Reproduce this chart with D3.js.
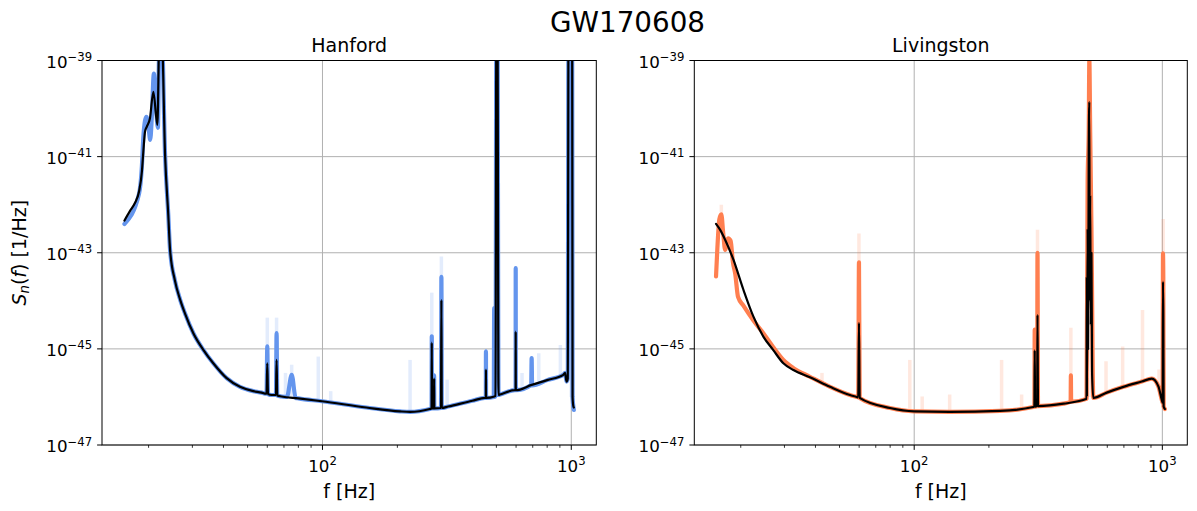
<!DOCTYPE html>
<html>
<head>
<meta charset="utf-8">
<script src="https://cdn.jsdelivr.net/npm/d3@7"></script>
<style>
  body { margin: 0; background: #fff; }
  text { font-family: "DejaVu Sans", sans-serif; fill: #000; }
</style>
</head>
<body>
<svg id="fig" width="1197" height="511"></svg>
<script>
// ---- data (frequencies in Hz, PSD as log10 of S_n in 1/Hz) ----
var figTitle = "GW170608";
var detectors = ["Hanford", "Livingston"];
var bandColors = ["#6495ed", "#ff7f50"];
var xTickVals = [100, 1000];
var yTickExps = [-39, -41, -43, -45, -47];
var fRange = [16, 1024];

// median PSD, Hanford
var hanfordF = [16.0, 16.8, 17.6, 18.3, 18.8, 19.05, 19.35, 19.66, 20.26, 20.9, 21.7, 22.1, 22.6, 23.3, 24.0, 24.4,
  25.5, 26.8, 28.0, 30.3, 33.2, 36.4, 41.2, 46.6, 52.7, 57.0, 58.7,
  59.6, 60.0, 60.4, 62.5, 65.0, 65.4, 65.8, 68.5, 80, 99.5, 150, 205, 225, 270, 274.5, 275, 275.5,
  280.5, 281, 281.5, 299.5, 300.6, 301.7, 320, 400, 450, 453.5, 454, 454.5, 491, 496, 500, 505, 510, 517, 594, 597.5,
  598, 598.5, 693, 800, 929, 944, 957, 968, 975, 1008, 1012, 1020, 1024];
var hanfordS = [-42.33, -42.14, -41.97, -41.73, -41.31, -40.90, -40.48, -40.38, -40.20, -39.65, -40.34, -38.5, -38.5, -40.97, -42.21, -42.94,
  -43.57, -43.98, -44.26, -44.68, -45.02, -45.30, -45.61, -45.79, -45.88, -45.91, -45.93,
  -45.93, -45.30, -45.94, -45.96, -45.96, -45.23, -45.97, -45.99, -46.03, -46.09, -46.22, -46.30, -46.31, -46.25, -46.24, -44.87, -46.24,
  -46.24, -45.62, -46.24, -46.23, -43.98, -46.23, -46.20, -46.08, -46.02, -46.02, -45.43, -46.02, -45.99, -45.98, -38, -38, -45.96, -45.95, -45.86, -45.86,
  -44.64, -45.86, -45.75, -45.65, -45.54, -45.50, -45.68, -45.62, -38, -38, -46.0, -46.2, -46.22];

// sample band, Hanford
var hanfordBandF = [16.0, 18.3, 18.8, 19.05, 19.35, 19.6, 20.0, 20.3, 20.6, 21.0, 21.4, 21.8, 22.1, 22.6, 23.3, 24.0, 24.4,
  25.5, 26.8, 28.0, 30.3, 33.2, 36.4, 41.2, 46.6, 52.7, 57.0, 58.7,
  59.6, 60.0, 60.4, 62.5, 65.0, 65.4, 65.8, 68.5, 72, 75.2, 78, 80, 99.5, 150, 205, 225,
  270, 274.5, 275, 275.5, 280.5, 281, 281.5, 299.5, 300.6, 301.7, 320, 400, 450, 453.5, 454, 454.5, 488, 490, 492, 496,
  500, 505, 510, 517, 594, 597.5, 598, 598.5, 690, 693, 696, 800, 929, 944, 957, 968, 975, 1008, 1012, 1024];
var hanfordBandS = [-42.4, -41.78, -41.2, -40.6, -40.25, -40.17, -40.4, -40.65, -40.2, -39.27, -39.9, -40.4, -38.5, -38.5, -40.97, -42.21, -42.94,
  -43.57, -43.98, -44.26, -44.68, -45.02, -45.30, -45.61, -45.79, -45.88, -45.91, -45.93,
  -45.93, -44.95, -45.94, -45.96, -45.96, -44.67, -45.97, -45.99, -46.0, -45.54, -46.02, -46.03, -46.09, -46.22, -46.30, -46.31,
  -46.25, -46.24, -44.74, -46.24, -46.24, -45.55, -46.24, -46.23, -43.5, -46.23, -46.20, -46.08, -46.02, -46.02, -45.05, -46.02, -46.0, -44.15, -46.0, -45.98,
  -38, -38, -45.96, -45.95, -45.86, -45.86, -43.32, -45.86, -45.75, -45.19, -45.76, -45.65, -45.54, -45.50, -45.68, -45.62, -38, -38, -46.0, -46.27];

// faint sample lines, Hanford: [f, from, to]
var hanfordFaint = [[60.0, -45.9, -44.35], [65.4, -45.95, -44.35], [71, -46.0, -45.5], [75.2, -46.0, -45.33], [96.2, -46.08, -45.16],
  [107.9, -46.12, -45.88], [225, -46.31, -45.23], [275, -46.24, -43.83], [300.6, -46.23, -43.08], [317, -46.2, -45.64],
  [634, -45.82, -45.5], [740, -45.7, -45.09], [904, -45.56, -44.92], [1000, -46.0, -41.55]];

// median PSD, Livingston
var livingstonF = [15.9, 16.5, 17.3, 18.7, 20.5, 22.5, 24.7, 27.0, 29.7, 32.6, 38.0, 45.8, 55.1, 58.7,
  59.5, 59.9, 60.3, 79.9, 100, 139, 222, 302, 305, 306, 307, 313, 314, 315.5, 400,
  495, 496, 497, 500, 502, 505, 508, 510, 512, 515, 518, 521, 527,
  597, 697, 826, 907, 964, 995, 1003, 1006, 1009, 1012, 1024];
var livingstonS = [-42.40, -42.52, -42.73, -43.15, -43.77, -44.33, -44.75, -45.02, -45.30, -45.44, -45.59, -45.79, -45.96, -46.00,
  -46.01, -44.46, -46.02, -46.23, -46.30, -46.31, -46.29, -46.21, -46.20, -45.03, -46.20, -46.19, -44.29, -46.19, -46.14,
  -46.04, -43.5, -46.0, -42.5, -45.0, -41.0, -39.86, -44.0, -41.8, -44.5, -43.0, -45.5, -46.02,
  -45.91, -45.79, -45.68, -45.62, -45.78, -46.06, -46.12, -43.6, -44.3, -46.2, -46.25];

// sample band, Livingston
var livingstonBandF = [15.9, 16.1, 16.4, 16.7, 17.0, 17.3, 17.8, 18.2, 18.6, 19.0, 19.5,
  20.5, 22.5, 24.7, 27.0, 29.7, 32.6, 38.0, 45.8, 55.1, 58.7, 59.5, 59.9, 60.3,
  79.9, 100, 139, 222, 302, 305, 306, 307, 313, 314, 315.5, 400, 427, 428, 429,
  495, 500, 505, 508, 512, 518, 527, 597, 697, 826, 907, 964, 995, 1003, 1006, 1009, 1012, 1024];
var livingstonBandS = [-43.49, -42.9, -42.3, -42.2, -42.6, -42.94, -42.7, -42.75, -43.2, -43.44, -43.92,
  -44.10, -44.41, -44.68, -44.96, -45.23, -45.40, -45.58, -45.79, -45.96, -46.00, -46.01, -43.2, -46.02,
  -46.23, -46.30, -46.31, -46.29, -46.21, -46.20, -44.6, -46.20, -46.19, -43.0, -46.19, -46.14, -46.1, -45.55, -46.1,
  -46.04, -41.5, -40.5, -39.0, -40.5, -42.5, -46.02, -45.91, -45.79, -45.68, -45.62, -45.78, -46.06, -46.12, -43.01, -43.5, -46.2, -46.25];

// faint sample lines, Livingston: [f, from, to]
var livingstonFaint = [[16.7, -42.3, -42.0], [42.5, -45.7, -45.5], [59.9, -46.0, -42.6], [96, -46.29, -45.23], [107.7, -46.3, -45.99],
  [139, -46.31, -45.95], [225, -46.29, -45.23], [271, -46.25, -45.95], [314, -46.19, -42.52], [428, -46.1, -44.56],
  [508, -46.0, -38.9], [593, -45.91, -45.26], [692, -45.8, -44.95], [832, -45.68, -44.19], [970, -45.8, -45.43],
  [1008, -46.1, -42.3]];

// ---- layout ----
var svg = d3.select("#fig");
svg.append("rect").attr("width", 1197).attr("height", 511).attr("fill", "#fff");

var plotTop = 60.5, plotBottom = 445;
var panels = [
  { name: detectors[0], left: 102, right: 596.3, color: bandColors[0],
    f: hanfordF, s: hanfordS, bf: hanfordBandF, bs: hanfordBandS, faint: hanfordFaint, ylabel: true },
  { name: detectors[1], left: 694.3, right: 1187.3, color: bandColors[1],
    f: livingstonF, s: livingstonS, bf: livingstonBandF, bs: livingstonBandS, faint: livingstonFaint, ylabel: false }
];

// matplotlib-like 5% margin in log space
var lo = Math.log10(fRange[0]), hi = Math.log10(fRange[1]), pad = (hi - lo) * 0.05;
var xDomain = [Math.pow(10, lo - pad), Math.pow(10, hi + pad)];

var minorTicks = [];
[10, 100, 1000].forEach(function (dec) {
  for (var k = 2; k <= 9; k++) {
    var v = dec * k;
    if (v > xDomain[0] && v < xDomain[1]) minorTicks.push(v);
  }
});

function supText(sel, exp) {
  sel.append("tspan").text("10");
  sel.append("tspan").attr("dy", -6.5).attr("font-size", 11.7)
    .text(exp < 0 ? "\u2212" + (-exp) : String(exp));
}

svg.append("text")
  .attr("x", 627.5).attr("y", 31.7)
  .attr("text-anchor", "middle")
  .attr("font-size", 27.8)
  .text(figTitle);

panels.forEach(function (p, i) {
  var x = d3.scaleLog().domain(xDomain).range([p.left, p.right]);
  var y = d3.scaleLog().domain([1e-47, 1e-39]).range([plotBottom, plotTop]);
  var g = svg.append("g");

  var clipId = "clip" + i;
  g.append("clipPath").attr("id", clipId)
    .append("rect")
    .attr("x", p.left).attr("y", plotTop)
    .attr("width", p.right - p.left).attr("height", plotBottom - plotTop);

  // grid
  g.selectAll(".gx").data(xTickVals).enter().append("line")
    .attr("x1", function (d) { return x(d); }).attr("x2", function (d) { return x(d); })
    .attr("y1", plotTop).attr("y2", plotBottom)
    .attr("stroke", "#b0b0b0").attr("stroke-width", 1);
  g.selectAll(".gy").data(yTickExps).enter().append("line")
    .attr("x1", p.left).attr("x2", p.right)
    .attr("y1", function (d) { return y(Math.pow(10, d)); })
    .attr("y2", function (d) { return y(Math.pow(10, d)); })
    .attr("stroke", "#b0b0b0").attr("stroke-width", 1);

  var straight = d3.line()
    .x(function (d) { return x(d[0]); })
    .y(function (d) { return y(Math.pow(10, d[1])); });
  var smooth = d3.line()
    .x(function (d) { return x(d[0]); })
    .y(function (d) { return y(Math.pow(10, d[1])); })
    .curve(d3.curveMonotoneX);

  var plot = g.append("g").attr("clip-path", "url(#" + clipId + ")");

  // faint sample traces
  plot.selectAll(".faint").data(p.faint).enter().append("path")
    .attr("d", function (d) { return straight([[d[0], d[1]], [d[0], d[2]]]); })
    .attr("stroke", p.color).attr("stroke-opacity", 0.18)
    .attr("stroke-width", 3.5).attr("fill", "none");

  // sample band
  var band = p.bf.map(function (f, k) { return [f, p.bs[k]]; });
  plot.append("path")
    .attr("d", smooth(band))
    .attr("stroke", p.color).attr("stroke-width", 4.2)
    .attr("stroke-linejoin", "round").attr("stroke-linecap", "round")
    .attr("fill", "none");

  // median
  var med = p.f.map(function (f, k) { return [f, p.s[k]]; });
  plot.append("path")
    .attr("d", smooth(med))
    .attr("stroke", "#000").attr("stroke-width", 2.2)
    .attr("stroke-linejoin", "round").attr("stroke-linecap", "round")
    .attr("fill", "none");

  // spines
  g.append("rect")
    .attr("x", p.left).attr("y", plotTop)
    .attr("width", p.right - p.left).attr("height", plotBottom - plotTop)
    .attr("fill", "none").attr("stroke", "#000").attr("stroke-width", 1);

  // x ticks
  g.selectAll(".xt").data(xTickVals).enter().append("line")
    .attr("x1", function (d) { return x(d); }).attr("x2", function (d) { return x(d); })
    .attr("y1", plotBottom).attr("y2", plotBottom + 4.9)
    .attr("stroke", "#000").attr("stroke-width", 1);
  g.selectAll(".xm").data(minorTicks).enter().append("line")
    .attr("x1", function (d) { return x(d); }).attr("x2", function (d) { return x(d); })
    .attr("y1", plotBottom).attr("y2", plotBottom + 2.8)
    .attr("stroke", "#000").attr("stroke-width", 0.8);
  g.selectAll(".xl").data(xTickVals).enter().append("text")
    .attr("x", function (d) { return x(d); }).attr("y", 471.7)
    .attr("text-anchor", "middle").attr("font-size", 16.7)
    .each(function (d) { supText(d3.select(this), Math.round(Math.log10(d))); });

  // y ticks
  g.selectAll(".yt").data(yTickExps).enter().append("line")
    .attr("x1", p.left - 4.9).attr("x2", p.left)
    .attr("y1", function (d) { return y(Math.pow(10, d)); })
    .attr("y2", function (d) { return y(Math.pow(10, d)); })
    .attr("stroke", "#000").attr("stroke-width", 1);
  g.selectAll(".yl").data(yTickExps).enter().append("text")
    .attr("x", p.left - 9.8)
    .attr("y", function (d) { return y(Math.pow(10, d)) + 7.1; })
    .attr("text-anchor", "end").attr("font-size", 16.7)
    .each(function (d) { supText(d3.select(this), d); });

  // titles and labels
  var cx = (p.left + p.right) / 2;
  g.append("text").attr("x", cx).attr("y", 52.3)
    .attr("text-anchor", "middle").attr("font-size", 19)
    .text(p.name);
  g.append("text").attr("x", cx).attr("y", 498)
    .attr("text-anchor", "middle").attr("font-size", 19)
    .text("f [Hz]");

  if (p.ylabel) {
    var yl = g.append("text")
      .attr("transform", "translate(25.5," + ((plotTop + plotBottom) / 2) + ") rotate(-90)")
      .attr("text-anchor", "middle").attr("font-size", 19);
    yl.append("tspan").attr("font-style", "italic").text("S");
    yl.append("tspan").attr("font-style", "italic").attr("font-size", 13.3).attr("dy", 3.5).text("n");
    yl.append("tspan").attr("dy", -3.5).text("(");
    yl.append("tspan").attr("font-style", "italic").text("f");
    yl.append("tspan").text(") [1/Hz]");
  }
});
</script>
</body>
</html>
